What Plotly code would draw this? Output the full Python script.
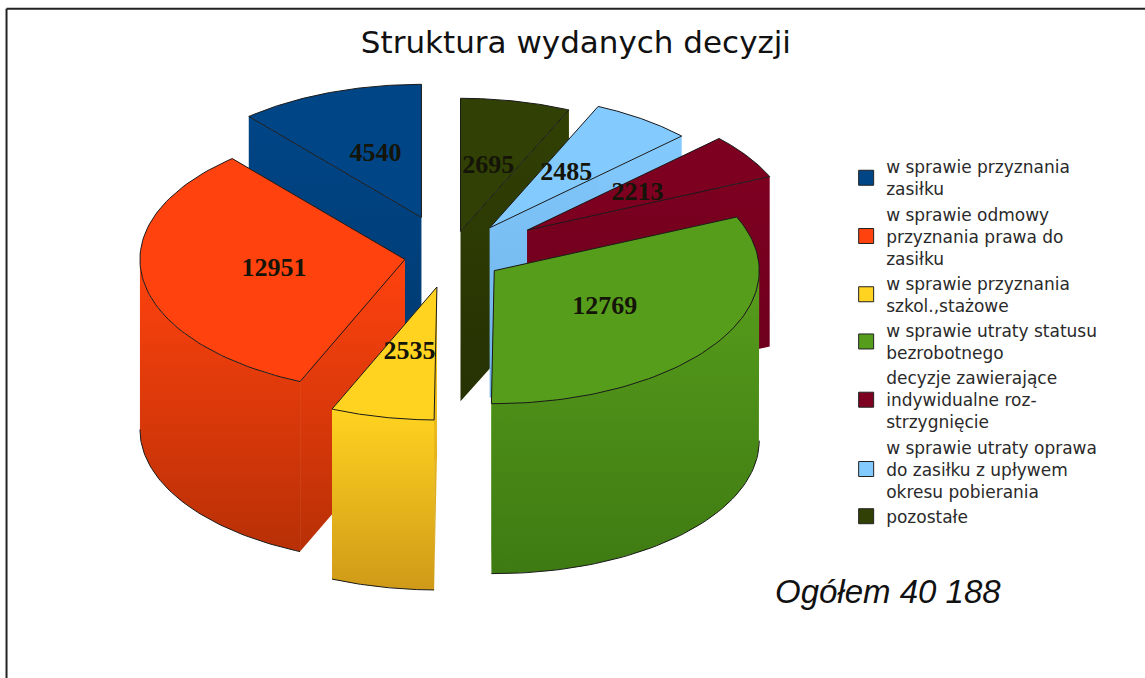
import numpy as np
import plotly.graph_objects as go

# ---- data ----
categories = [
    "w sprawie przyznania<br>zasiłku",
    "w sprawie odmowy<br>przyznania prawa do<br>zasiłku",
    "w sprawie przyznania<br>szkol.,stażowe",
    "w sprawie utraty statusu<br>bezrobotnego",
    "decyzje zawierające<br>indywidualne roz-<br>strzygnięcie",
    "w sprawie utraty oprawa<br>do zasiłku z upływem<br>okresu pobierania",
    "pozostałe",
]
values = [4540, 12951, 2535, 12769, 2213, 2485, 2695]
title_text = "Struktura wydanych decyzji"
total_text = "Ogółem 40 188"

# ---- styles ----
pull = [0.31, 0.172, 0.238, 0.20, 0.35, 0.26, 0.19]
colors = ["#004586", "#ff420e", "#ffd320", "#579d1c", "#7e0021", "#83caff", "#314004"]
wall_bottom = ["#003a70", "#b83006", "#cf9a18", "#3e7a12", "#6a001b", "#6fb2e6", "#263203"]
draw_order = [0, 6, 5, 4, 1, 3, 2]
CX, CY, A, B, DEPTH = 450, 256, 265, 133, 170
OUTLINE = "#1a1a1a"

total = sum(values)
start = 90.0
angles = []
for v in values:
    end = start + 360.0 * v / total
    angles.append((start, end))
    start = end


def ell(th):
    r = np.radians(th)
    return A * np.cos(r), -B * np.sin(r)


fig = go.Figure()


def poly(xs, ys, color, bottom=None, line=None):
    kw = dict(x=list(xs), y=list(ys), mode="lines", fill="toself", hoverinfo="skip", showlegend=False)
    if bottom:
        kw["fillgradient"] = dict(type="vertical", colorscale=[[0, bottom], [1, color]])
    else:
        kw["fillcolor"] = color
    kw["line"] = dict(color=line or "rgba(0,0,0,0)", width=1)
    fig.add_trace(go.Scatter(**kw))


for i in draw_order:
    a0, a1 = angles[i]
    mid = (a0 + a1) / 2
    ox, oy = ell(mid)
    px, py = CX + pull[i] * ox, CY + pull[i] * oy
    # cut faces
    for th in (a0, a1):
        ex, ey = ell(th)
        poly([px, px + ex, px + ex, px, px],
             [py, py + ey, py + ey + DEPTH, py + DEPTH, py],
             colors[i], wall_bottom[i])
    # front outer wall (only the part facing the viewer)
    for shift in (0.0, 360.0):
        l2, h2 = max(a0, 180.0 + shift), min(a1, 360.0 + shift)
        if h2 > l2:
            th = np.linspace(l2, h2, 60)
            ex, ey = ell(th)
            poly(np.r_[px + ex, (px + ex)[::-1]],
                 np.r_[py + ey, (py + ey + DEPTH)[::-1]],
                 colors[i], wall_bottom[i])
            fig.add_trace(go.Scatter(x=px + ex, y=py + ey + DEPTH, mode="lines",
                                     line=dict(color=OUTLINE, width=1),
                                     hoverinfo="skip", showlegend=False))
    # top face
    th = np.linspace(a0, a1, 80)
    ex, ey = ell(th)
    poly(np.r_[px, px + ex, px], np.r_[py, py + ey, py], colors[i], None, OUTLINE)

# value labels
lx, ly = [], []
for i, (a0, a1) in enumerate(angles):
    ox, oy = ell((a0 + a1) / 2)
    lx.append(CX + (pull[i] + 0.5) * ox)
    ly.append(CY + (pull[i] + 0.5) * oy)
fig.add_trace(go.Scatter(x=lx, y=ly, mode="text", text=[str(v) for v in values],
                         textposition="middle center",
                         textfont=dict(family="Liberation Serif", size=26, color="#141408"),
                         texttemplate="<b>%{text}</b>", hoverinfo="skip", showlegend=False))

# legend entries
for name, c in zip(categories, colors):
    fig.add_trace(go.Scatter(x=[None], y=[None], mode="markers", name=name,
                             marker=dict(symbol="square", size=15, color=c,
                                         line=dict(color="#222222", width=1))))

fig.update_layout(
    width=1145, height=678,
    margin=dict(l=0, r=0, t=0, b=0),
    paper_bgcolor="white", plot_bgcolor="white",
    xaxis=dict(range=[0, 1145], visible=False, fixedrange=True),
    yaxis=dict(range=[678, 0], visible=False, fixedrange=True),
    legend=dict(x=0.739, y=0.78, xanchor="left", yanchor="top",
                font=dict(family="DejaVu Sans", size=17, color="#2a2a2a"),
                tracegroupgap=0, bgcolor="rgba(0,0,0,0)", itemwidth=30),
    title=dict(text=title_text, x=0.503, xanchor="center", y=0.938, yanchor="middle",
               font=dict(family="DejaVu Sans", size=31, color="#111111")),
    annotations=[dict(text=f"<i>{total_text}</i>", xref="paper", yref="paper", x=0.7755, y=0.127,
                      xanchor="center", yanchor="middle", showarrow=False,
                      font=dict(family="Liberation Sans", size=33, color="#111111"))],
    shapes=[
        dict(type="line", xref="paper", yref="paper", x0=0.0057, x1=0.0057, y0=0, y1=0.987,
             line=dict(color="#222222", width=2)),
        dict(type="line", xref="paper", yref="paper", x0=0.0057, x1=1, y0=0.987, y1=0.987,
             line=dict(color="#222222", width=2)),
    ],
)
fig.write_html("out.html", config={"displayModeBar": False},
               post_script="document.body.style.margin='0';document.body.style.overflow='hidden';")
